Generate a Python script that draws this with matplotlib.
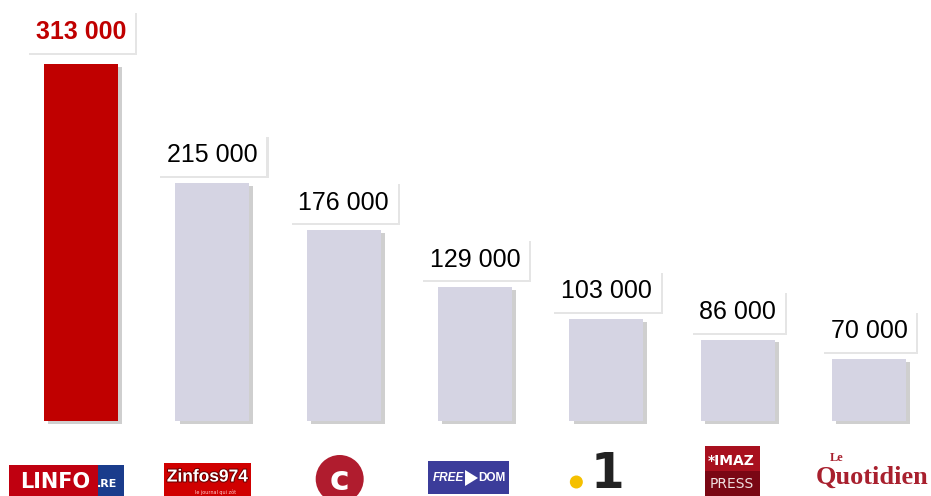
import matplotlib
matplotlib.use("Agg")

import numpy as np
import matplotlib.pyplot as plt
import matplotlib.patheffects as pe
from matplotlib.patches import Rectangle, Circle, Polygon

# ================================
# DATA
# ================================
sites = ["LINFO.re", "Zinfos974", "Clicanoo", "Freedom", "Réunion la 1ère", "Imaz Press", "Le Quotidien"]
visitors = [313000, 215000, 176000, 129000, 103000, 86000, 70000]
labels = ["313 000", "215 000", "176 000", "129 000", "103 000", "86 000", "70 000"]

RED = "#C00000"
GREY = "#D5D4E3"
FONT = ["Liberation Sans", "DejaVu Sans"]

fig = plt.figure(figsize=(9.31, 4.96), dpi=100)
ax = fig.add_axes([0, 0, 1, 1])

base = 19000
x = np.arange(len(visitors))
heights = np.array(visitors) - base
colors = [RED] + [GREY] * (len(visitors) - 1)

shadow = [pe.SimplePatchShadow(offset=(3, -2), shadow_rgbFace="#777777", alpha=0.35), pe.Normal()]
bars = ax.bar(x, heights, bottom=base, width=0.563, color=colors, linewidth=0)
for b in bars:
    b.set_path_effects(shadow)

# value labels in white boxes
for i, (v, lab) in enumerate(zip(visitors, labels)):
    first = i == 0
    t = ax.annotate(lab, (i, v), xytext=(0, 23 if first else 20), textcoords="offset points",
                    ha="center", va="center", fontsize=18, family=FONT,
                    fontweight="bold" if first else "normal",
                    color=RED if first else "black",
                    bbox=dict(boxstyle="square,pad=0.35", fc="white", ec="none"))
    t.get_bbox_patch().set_path_effects([pe.SimplePatchShadow(offset=(1.5, -1.5), shadow_rgbFace="#999999", alpha=0.25), pe.Normal()])

ax.set_xlim(-0.617, 6.472)
ax.set_ylim(-42760, 365700)
ax.axis("off")

# ================================
# LOGOS (drawn in pixel coordinates)
# ================================
lx = fig.add_axes([0, 0, 1, 1], zorder=5)
lx.set_xlim(0, 931)
lx.set_ylim(496, 0)
lx.axis("off")
cx = [ax.transData.transform((i, 0))[0] for i in x]

# LINFO.re
c = cx[0] - 15
lx.add_patch(Rectangle((c - 57, 465), 89, 35, fc="#C00010", ec="none"))
lx.add_patch(Rectangle((c + 32, 465), 26, 35, fc="#1A3C8C", ec="none"))
lx.text(c - 11, 482, "LINFO", color="white", fontsize=15, fontweight="bold", ha="center", va="center", family="DejaVu Sans")
lx.text(c + 41, 484, ".RE", color="white", fontsize=8, fontweight="bold", ha="center", va="center", family="DejaVu Sans")

# Zinfos974
c = cx[1] - 5
lx.add_patch(Rectangle((c - 43, 463), 87, 36, fc="#D00000", ec="none"))
lx.text(c, 477, "Zinfos974", color="white", fontsize=12.5, fontweight="bold", ha="center", va="center",
        family=FONT, path_effects=[pe.withStroke(linewidth=1.5, foreground="#700000")])
lx.text(c + 8, 492, "le journal qui zôt", color="#FFCCCC", fontsize=3.5, ha="center", va="center")

# Clicanoo
c = cx[2] - 4
lx.add_patch(Circle((c, 479), 24, fc="#B01C2E", ec="none"))
lx.text(c, 480, "c", color="white", fontsize=24, fontweight="bold", ha="center", va="center", family="DejaVu Sans")

# Freedom
c = cx[3] - 7
lx.add_patch(Rectangle((c - 40, 461), 81, 33, fc="#3B3C9A", ec="none"))
lx.text(c - 20, 478, "FREE", color="white", fontsize=8.5, fontweight="bold", style="italic", ha="center", va="center", family=FONT)
lx.text(c + 24, 478, "DOM", color="white", fontsize=8.5, fontweight="bold", ha="center", va="center", family=FONT)
lx.add_patch(Polygon([[c - 3, 470], [c + 10, 478], [c - 3, 486]], fc="white", ec="none"))

# la 1ere
c = cx[4]
lx.add_patch(Circle((c - 30, 482), 6.5, fc="#F5C000", ec="none"))
lx.text(c + 1, 474, "1", color="#222222", fontsize=35, fontweight="bold", ha="center", va="center", family="DejaVu Sans")

# Imaz Press
c = cx[5] - 6
lx.add_patch(Rectangle((c - 27, 446), 55, 25, fc="#A8101E", ec="none"))
lx.add_patch(Rectangle((c - 27, 471), 55, 28, fc="#7A0714", ec="none"))
lx.text(c, 461, "*IMAZ", color="white", fontsize=10, fontweight="bold", ha="center", va="center", family="DejaVu Sans")
lx.text(c, 484, "PRESS", color="#F0E0E0", fontsize=10, ha="center", va="center", family="DejaVu Sans")

# Le Quotidien
c = cx[6] + 1
lx.text(c + 2, 477, "Quotidien", color="#A8202E", fontsize=19, fontweight="bold", ha="center", va="center",
        family=["Liberation Serif", "DejaVu Serif"])
lx.text(c - 33, 458, "Le", color="#A8202E", fontsize=9, fontweight="bold", ha="center", va="center",
        family=["Liberation Serif", "DejaVu Serif"])

fig.savefig("out.png", dpi=100)
plt.close(fig)
